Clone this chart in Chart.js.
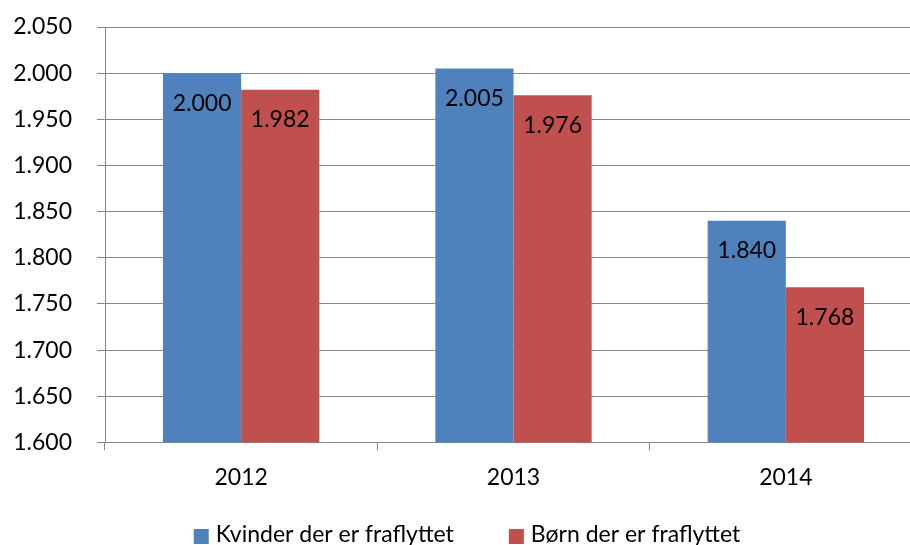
<!DOCTYPE html>
<html>
<head>
<meta charset="utf-8">
<script src="https://cdn.jsdelivr.net/npm/chart.js@4.4.1/dist/chart.umd.min.js"></script>
<style>
  html, body { margin: 0; padding: 0; background: #fff; overflow: hidden; }
  #wrap { width: 922px; height: 545px; position: relative; }
</style>
</head>
<body>
<div id="wrap"><canvas id="barChart"></canvas></div>
<script>
const years = ['2012', '2013', '2014'];
const kvinder = [2000, 2005, 1840];
const boern = [1982, 1976, 1768];
const seriesNames = ['Kvinder der er fraflyttet', 'Børn der er fraflyttet'];

const FONT = 'Lato, "Open Sans", sans-serif';
const GRID = '#878787';

// danish thousands separator
const fmt = v => String(v).replace(/\B(?=(\d{3})+(?!\d))/g, '.');

// draw values inside the top of each bar
const valueLabels = {
  id: 'valueLabels',
  afterDatasetsDraw(chart) {
    const ctx = chart.ctx;
    ctx.save();
    ctx.font = '23px ' + FONT;
    ctx.fillStyle = '#000';
    ctx.textAlign = 'center';
    ctx.textBaseline = 'middle';
    chart.data.datasets.forEach((ds, i) => {
      chart.getDatasetMeta(i).data.forEach((bar, j) => {
        ctx.fillText(fmt(ds.data[j]), bar.x, bar.y + 30);
      });
    });
    ctx.restore();
  }
};

// legend under the axis, spaced like the excel one
const bottomLegend = {
  id: 'bottomLegend',
  afterDraw(chart) {
    const ctx = chart.ctx;
    ctx.save();
    ctx.font = '23px ' + FONT;
    ctx.textBaseline = 'middle';
    ctx.textAlign = 'left';
    const items = chart.data.datasets.map(ds => ({
      text: ds.label, color: ds.backgroundColor, w: ctx.measureText(ds.label).width
    }));
    const box = 15, gap = 7, between = 55;
    const total = items.reduce((s, it) => s + box + gap + it.w, 0) + between * (items.length - 1);
    let x = 467 - total / 2;
    const y = 535;
    items.forEach(it => {
      ctx.fillStyle = it.color;
      ctx.fillRect(x, y - 6, box, box);
      x += box + gap;
      ctx.fillStyle = '#000';
      ctx.fillText(it.text, x, y);
      x += it.w + between;
    });
    ctx.restore();
  }
};

const ctx = document.getElementById('barChart').getContext('2d');
new Chart(ctx, {
  type: 'bar',
  data: {
    labels: years,
    datasets: [
      { label: seriesNames[0], data: kvinder, backgroundColor: '#4F81BD' },
      { label: seriesNames[1], data: boern, backgroundColor: '#C0504D' }
    ]
  },
  options: {
    responsive: true,
    maintainAspectRatio: false,
    animation: false,
    layout: { padding: { top: 27, right: 0, left: 0, bottom: 41 } },
    datasets: { bar: { barPercentage: 1, categoryPercentage: 0.574 } },
    plugins: {
      legend: { display: false },
      tooltip: { enabled: false }
    },
    scales: {
      x: {
        grid: { offset: true, drawOnChartArea: false, drawTicks: true, tickLength: 8, color: GRID },
        border: { color: GRID },
        ticks: { font: { family: FONT, size: 23 }, color: '#000', padding: 13 }
      },
      y: {
        min: 1600,
        max: 2050,
        afterFit: scale => {
          scale.width = 105;
          scale.paddingTop = 0;
          scale.paddingBottom = 0;
        },
        grid: { color: GRID, drawTicks: true, tickLength: 8 },
        border: { color: GRID },
        ticks: {
          stepSize: 50,
          font: { family: FONT, size: 23 },
          color: '#000',
          padding: 25,
          callback: v => fmt(v)
        }
      }
    }
  },
  plugins: [valueLabels, bottomLegend]
});
</script>
</body>
</html>
